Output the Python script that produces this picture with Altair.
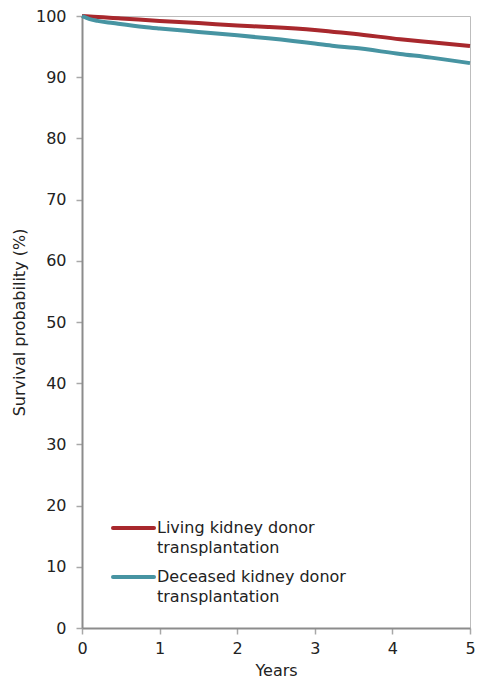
import altair as alt
import pandas as pd

# Data
living_years = [0, 0.1, 0.5, 1.0, 1.5, 2.0, 2.4, 3.0, 3.25, 3.5, 4.1, 4.5, 5.0]
living_surv = [100, 99.9, 99.6, 99.2, 98.85, 98.45, 98.2, 97.7, 97.4, 97.1, 96.2, 95.7, 95.1]
deceased_years = [0, 0.1, 0.2, 0.4, 0.8, 1.0, 1.5, 2.0, 2.4, 3.0, 3.25, 3.5, 4.1, 4.5, 5.0]
deceased_surv = [100, 99.5, 99.2, 98.85, 98.2, 97.95, 97.4, 96.85, 96.35, 95.5, 95.1, 94.8, 93.8, 93.2, 92.3]
series = ["Living kidney donor\ntransplantation", "Deceased kidney donor\ntransplantation"]
colors = ["#A8282D", "#4794A2"]
legend_rows = [0, 1]

df = pd.concat([
    pd.DataFrame({"year": living_years, "surv": living_surv, "series": series[0]}),
    pd.DataFrame({"year": deceased_years, "surv": deceased_surv, "series": series[1]}),
])

FONT = "DejaVu Sans"
FS = 16
color_scale = alt.Scale(domain=series, range=colors)

lines = alt.Chart(df).mark_line(strokeWidth=4, interpolate="monotone").encode(
    x=alt.X("year:Q", scale=alt.Scale(domain=[0, 5], nice=False),
            axis=alt.Axis(title="Years", values=[0, 1, 2, 3, 4, 5], format="d",
                          titlePadding=6, labelPadding=6, labelFlush=False)),
    y=alt.Y("surv:Q", scale=alt.Scale(domain=[0, 100], nice=False),
            axis=alt.Axis(title="Survival probability (%)", values=list(range(0, 101, 10)),
                          titlePadding=8, labelPadding=10, labelFlush=False)),
    color=alt.Color("series:N", scale=color_scale, legend=None),
)

leg_df = pd.DataFrame({"series": series, "row": legend_rows})
leg_y = alt.Y("row:Q", scale=alt.Scale(domain=[0, 1], range=[512, 561]), axis=None)
leg_rule = alt.Chart(leg_df).mark_rule(strokeWidth=4, strokeCap="round").encode(
    x=alt.value(31), x2=alt.value(72),
    y=leg_y,
    color=alt.Color("series:N", scale=color_scale, legend=None),
)
leg_text = alt.Chart(leg_df).mark_text(
    align="left", baseline="middle", lineBreak="\n", font=FONT, fontSize=FS,
    color="#222", lineHeight=20,
).encode(
    x=alt.value(75),
    y=leg_y,
    text="series:N",
)

chart = alt.layer(lines, leg_rule, leg_text).resolve_scale(y="independent").properties(
    width=388, height=612,
    autosize=alt.AutoSizeParams(type="none"),
    padding={"left": 74, "top": 8, "right": 6, "bottom": 52},
).configure_view(stroke="#BDBDBD", strokeWidth=1).configure_axis(
    grid=False, domainColor="#8C8C8C", domainWidth=2, tickColor="#A8A8A8",
    tickWidth=1.5, tickSize=6, labelFont=FONT, labelFontSize=FS, labelColor="#222",
    titleFont=FONT, titleFontSize=FS, titleColor="#222", titleFontWeight="normal",
)

chart.save("out.html", embed_options={"renderer": "svg", "actions": False})
